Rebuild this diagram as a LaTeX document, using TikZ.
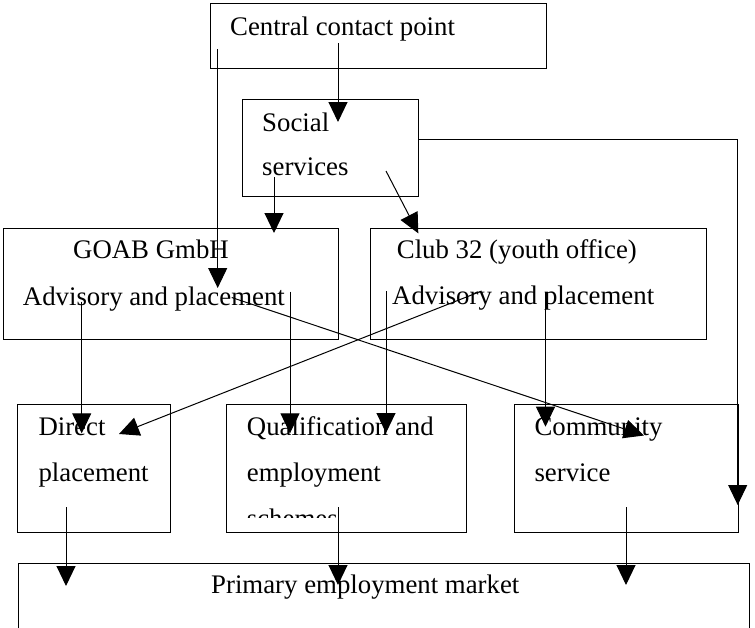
\documentclass[tikz,border=0pt]{standalone}
\usepackage{fontspec}
\setmainfont{Liberation Serif}
\usetikzlibrary{arrows.meta}
\begin{document}
\begin{tikzpicture}[x=1pt,y=-1pt,
  box/.style={draw,line width=1pt,rectangle,inner sep=0pt,anchor=north west},
  txt/.style={anchor=base west,inner sep=0pt,font=\fontsize{26.8}{30}\selectfont},
  flow/.style={line width=1pt,-{Triangle[length=20pt,width=19pt]}}]
\useasboundingbox (0,0) rectangle (755,627);

% boxes
\node[box,minimum width=336.5pt,minimum height=64.4pt] (ccp)  at (209.5,3.3) {};
\node[box,minimum width=176.3pt,minimum height=96.4pt] (soc)  at (241.7,99.3) {};
\node[box,minimum width=335.6pt,minimum height=111.6pt] (goab) at (2.7,227.7) {};
\node[box,minimum width=336pt,minimum height=111.6pt] (club) at (370,227.7) {};
\node[box,minimum width=152.7pt,minimum height=127.7pt] (dir)  at (17.3,404) {};
\node[box,minimum width=240pt,minimum height=127.7pt] (qual) at (226,404) {};
\node[box,minimum width=223.7pt,minimum height=127.7pt] (comm) at (514,404) {};
\node[box,minimum width=731.5pt,minimum height=90pt] (prim) at (17.5,563.3) {};

% labels
\node[txt] (t-ccp) at (230,35) {Central contact point};
\node[txt] (t-soc1) at (262,131) {Social};
\node[txt] (t-soc2) at (262,175.6) {services};
\node[txt] (t-goab1) at (73,258) {GOAB GmbH};
\node[txt] (t-goab2) at (22.7,305) {Advisory and placement};
\node[txt] (t-club1) at (396.7,258.3) {Club 32 (youth office)};
\node[txt] (t-club2) at (392,304) {Advisory and placement};
\node[txt] (t-dir1) at (38.3,435) {Direct};
\node[txt] (t-dir2) at (38.3,481.7) {placement};
\node[txt] (t-qual1) at (246.7,435) {Qualification and};
\node[txt] (t-qual2) at (246.7,481) {employment};
\begin{scope}
  \clip (226,404) rectangle (466,517.7);
  \node[txt] (t-qual3) at (246.7,527.5) {schemes};
\end{scope}
\node[txt] (t-comm1) at (534.3,435) {Community};
\node[txt] (t-comm2) at (534.3,481.7) {service};
\node[txt] (t-prim) at (211,593) {Primary employment market};

% connector end points
\coordinate (ccp-a) at (338,43);     \coordinate (soc-in) at (338,122);
\coordinate (ccp-b) at (217.7,49);   \coordinate (goab-in1) at (217.7,288);
\coordinate (soc-r) at (418,139.3);  \coordinate (bend) at (737.7,139.3);
\coordinate (comm-in3) at (737.7,505);
\coordinate (soc-a) at (274,177);    \coordinate (goab-in2) at (274,233);
\coordinate (soc-b) at (386,171);    \coordinate (club-in) at (418.3,233.3);
\coordinate (goab-a) at (81.7,301.7);  \coordinate (dir-in1) at (81.7,433.3);
\coordinate (goab-b) at (290,291.7);   \coordinate (qual-in1) at (290,433.3);
\coordinate (goab-c) at (231.7,297.5); \coordinate (comm-in1) at (644,435.5);
\coordinate (club-a) at (386,291);     \coordinate (qual-in2) at (386,433);
\coordinate (club-b) at (545.5,291.7); \coordinate (comm-in2) at (545.5,426.7);
\coordinate (club-c) at (481.7,291);   \coordinate (dir-in2) at (119,434);
\coordinate (dir-out) at (66,507.3);   \coordinate (prim-in1) at (66,586);
\coordinate (qual-out) at (338,507.3); \coordinate (prim-in2) at (338,585);
\coordinate (comm-out) at (626,507.3); \coordinate (prim-in3) at (626,585);

% connectors
\draw[flow] (ccp-a) -- (soc-in);
\draw[flow] (ccp-b) -- (goab-in1);
\draw[flow] (soc-r) -- (bend) -- (comm-in3);
\draw[flow] (soc-a) -- (goab-in2);
\draw[flow] (soc-b) -- (club-in);
\draw[flow] (goab-a) -- (dir-in1);
\draw[flow] (goab-b) -- (qual-in1);
\draw[flow] (goab-c) -- (comm-in1);
\draw[flow] (club-a) -- (qual-in2);
\draw[flow] (club-b) -- (comm-in2);
\draw[flow] (club-c) -- (dir-in2);
\draw[flow] (dir-out) -- (prim-in1);
\draw[flow] (qual-out) -- (prim-in2);
\draw[flow] (comm-out) -- (prim-in3);
\end{tikzpicture}
\end{document}
